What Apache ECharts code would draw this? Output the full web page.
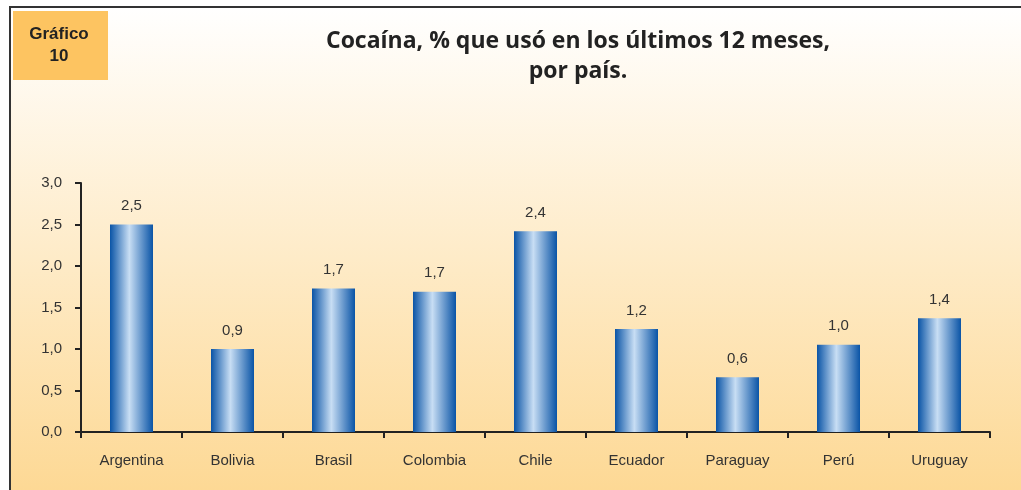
<!DOCTYPE html>
<html>
<head>
<meta charset="utf-8">
<script src="https://cdn.jsdelivr.net/npm/echarts@6/dist/echarts.min.js"></script>
<style>
html, body { margin: 0; padding: 0; background: #fff; }
#chart { width: 1021px; height: 490px; }
</style>
</head>
<body>
<div id="chart"></div>
<script>
// Cocaina chart

var paises = ['Argentina', 'Bolivia', 'Brasil', 'Colombia', 'Chile', 'Ecuador', 'Paraguay', 'Perú', 'Uruguay'];
var valores = [2.5, 1.0, 1.73, 1.69, 2.42, 1.24, 0.66, 1.05, 1.37];
var etiquetas = ['2,5', '0,9', '1,7', '1,7', '2,4', '1,2', '0,6', '1,0', '1,4'];
var ticksY = ['0,0', '0,5', '1,0', '1,5', '2,0', '2,5', '3,0'];

var dom = document.getElementById('chart');
var myChart = echarts.init(dom, null, { renderer: 'canvas' });

var barColor = new echarts.graphic.LinearGradient(0, 0, 1, 0, [
	{ offset: 0, color: '#0a54a6' },
	{ offset: 0.45, color: '#c8def4' },
	{ offset: 1, color: '#0a54a6' }
]);

var option = {
	animation: false,
	graphic: [{
		type: 'rect',
		shape: { x: 10, y: 7, width: 1020, height: 490 },
		style: {
			fill: new echarts.graphic.LinearGradient(0, 0, 0, 1, [
				{ offset: 0, color: '#ffffff' },
				{ offset: 1, color: '#fdd893' }
			]),
			stroke: '#333',
			lineWidth: 2
		},
		z: -10
	}, {
		type: 'rect',
		shape: { x: 13, y: 11, width: 95, height: 69 },
		style: { fill: '#fdc461' },
		z: -5
	}, {
		type: 'text',
		x: 59, y: 45,
		style: {
			text: 'Gráfico\n10',
			fill: '#222',
			font: 'bold 17px "Liberation Sans", Arial, sans-serif',
			align: 'center',
			verticalAlign: 'middle',
			lineHeight: 22
		}
	}, {
		type: 'text',
		x: 578, y: 56,
		style: {
			text: 'Cocaína, % que usó en los últimos 12 meses,\npor país.',
			fill: '#222',
			font: 'bold 23px "Open Sans", sans-serif',
			align: 'center',
			verticalAlign: 'middle',
			lineHeight: 30
		}
	}],
	grid: { left: 81, right: 31, top: 183, bottom: 58 },
	xAxis: {
		type: 'category',
		data: paises,
		axisLine: { lineStyle: { color: '#222', width: 2 } },
		axisTick: { show: true, length: 6, lineStyle: { color: '#222', width: 2 } },
		axisLabel: { color: '#333', fontSize: 15, fontFamily: '"Liberation Sans", Arial', margin: 21 }
	},
	yAxis: {
		type: 'value',
		min: 0, max: 3, interval: 0.5,
		splitLine: { show: false },
		axisLine: { show: true, lineStyle: { color: '#222', width: 2 } },
		axisTick: { show: true, length: 6, lineStyle: { color: '#222', width: 2 } },
		axisLabel: {
			color: '#333', fontSize: 15, fontFamily: '"Liberation Sans", Arial', margin: 19,
			formatter: function (v) { return ticksY[Math.round(v * 2)]; }
		}
	},
	series: [{
		type: 'bar',
		data: valores,
		barWidth: 43,
		itemStyle: { color: barColor },
		label: {
			show: true,
			position: 'top',
			distance: 11,
			color: '#333',
			fontSize: 15,
			fontFamily: '"Liberation Sans", Arial',
			formatter: function (p) { return etiquetas[p.dataIndex]; }
		}
	}]
};

myChart.setOption(option);
</script>
</body>
</html>
